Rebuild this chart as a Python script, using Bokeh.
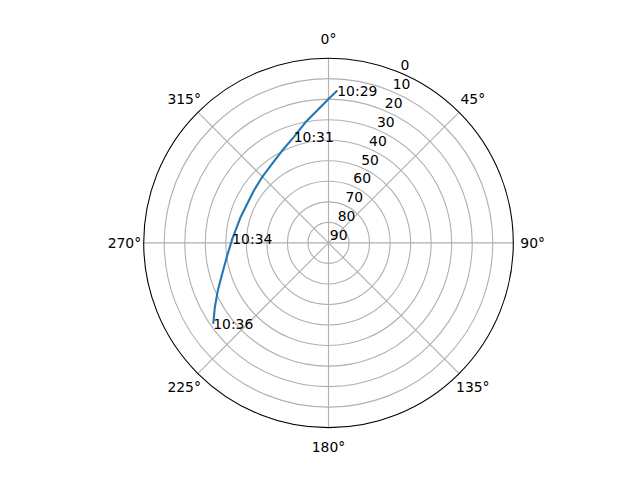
import numpy as np
from bokeh.plotting import figure
from bokeh.models import Range1d
from bokeh.embed import file_html
from bokeh.resources import INLINE
from bokeh.core.properties import value

# ---- data (azimuth in degrees clockwise from north, elevation in degrees) ----
azimuth = [3.3, 0.1, 355.1, 349.2, 341.8, 333.4, 324.6, 314.7, 305.1, 293.3,
           286.3, 272.4, 262.9, 253.8, 246.7, 240.5, 234.9]
elevation = [15.7, 19.8, 25.3, 30.2, 35.8, 39.7, 42.7, 44.5, 45.6, 46.0,
             45.4, 43.1, 40.3, 36.1, 31.3, 26.4, 21.4]
time_labels = ["10:29", "10:31", "10:34", "10:36"]
time_label_idx = [0, 4, 11, 16]
theta_ticks = [0, 45, 90, 135, 180, 225, 270, 315]
theta_tick_labels = ["0°", "45°", "90°", "135°", "180°", "225°", "270°", "315°"]
r_ticks = [0, 10, 20, 30, 40, 50, 60, 70, 80, 90]
r_tick_labels = ["0", "10", "20", "30", "40", "50", "60", "70", "80", "90"]

# ---- geometry: data unit = zenith degrees ----
SCALE = 184.8 / 90.0          # px per unit
CX, CY = 328.0, 242.4         # centre in page pixels
W, H = 624, 464
OFF = 0

def to_xy(az, el):
    az = np.radians(np.asarray(az, dtype=float))
    r = 90.0 - np.asarray(el, dtype=float)
    return r * np.sin(az), r * np.cos(az)

p = figure(width=W, height=H, output_backend="svg", toolbar_location=None,
           x_range=Range1d((OFF - CX) / SCALE, (OFF + W - CX) / SCALE),
           y_range=Range1d((CY - OFF - H) / SCALE, (CY - OFF) / SCALE),
           min_border=0, match_aspect=False)
p.axis.visible = False
p.grid.visible = False
p.outline_line_color = None
p.background_fill_color = "white"
p.border_fill_color = "white"

font = value("DejaVu Sans")
fsize = "13.9px"

# rings (gridlines)
for el in r_ticks[1:-1]:
    p.circle(x=0, y=0, radius=90 - el, fill_color=None, line_color="#b0b0b0", line_width=1.1)

# spokes
for t in theta_ticks:
    x1, y1 = to_xy(t, 0)
    p.line([0, float(x1)], [0, float(y1)], line_color="#b0b0b0", line_width=1.1)

# outer boundary
p.circle(x=0, y=0, radius=90, fill_color=None, line_color="black", line_width=1.1)

# theta tick labels
tx, ty = to_xy(theta_ticks, [-9.4] * len(theta_ticks))
p.text(x=tx, y=ty, text=theta_tick_labels, text_font=font, text_font_size=fsize,
       text_align="center", text_baseline="middle", text_color="black")

# radial tick labels at 22.5°
rx, ry = to_xy([22.5] * len(r_ticks), r_ticks)
p.text(x=rx, y=ry, text=r_tick_labels, text_font=font, text_font_size=fsize,
       text_align="left", text_baseline="bottom", text_color="black",
       x_offset=1.3, y_offset=-2.5)

# track
lx, ly = to_xy(azimuth, elevation)
p.line(lx, ly, line_color="#1f77b4", line_width=2.1)

# time labels
p.text(x=[float(lx[i]) for i in time_label_idx], y=[float(ly[i]) for i in time_label_idx],
       text=time_labels, text_font=font, text_font_size=fsize,
       text_align="left", text_baseline="alphabetic", text_color="black")

open("out.html", "w").write(file_html(p, INLINE))
